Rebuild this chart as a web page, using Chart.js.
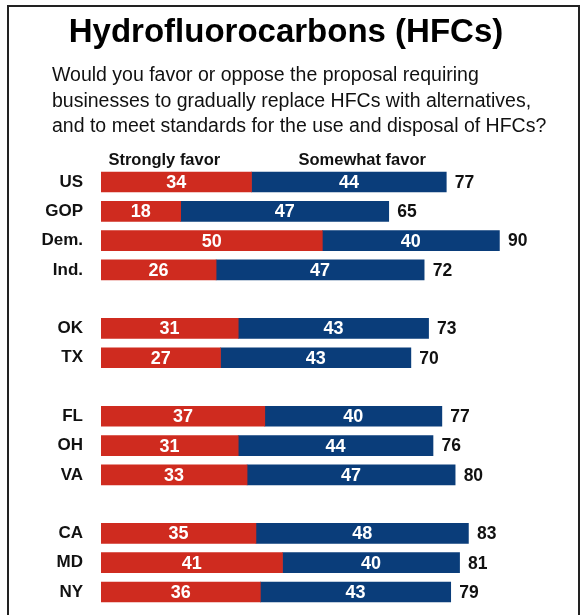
<!DOCTYPE html>
<html>
<head>
<meta charset="utf-8">
<script src="https://cdn.jsdelivr.net/npm/chart.js@4"></script>
<style>
  body { margin: 0; background: #fff; }
  #wrap { position: relative; width: 583px; height: 615px; overflow: hidden; }
  #frame { position: absolute; left: 7px; top: 5px; width: 569px; height: 640px; border: 2px solid #222; }
  #chart { position: absolute; left: 0; top: 0; }
</style>
</head>
<body>
<div id="wrap">
  <div id="frame"></div>
  <canvas id="chart" width="583" height="615"></canvas>
</div>
<script>
// survey data, groups are separated by an empty row
const groups = [
    ['US', 'GOP', 'Dem.', 'Ind.'],
    ['OK', 'TX'],
    ['FL', 'OH', 'VA'],
    ['CA', 'MD', 'NY']
];
const stronglyFavor = [34, 18, 50, 26, 31, 27, 37, 31, 33, 35, 41, 36];
const somewhatFavor = [44, 47, 40, 47, 43, 43, 40, 44, 47, 48, 40, 43];
const totals = [77, 65, 90, 72, 73, 70, 77, 76, 80, 83, 81, 79];
const seriesNames = ['Strongly favor', 'Somewhat favor'];
const question = [
    'Would you favor or oppose the proposal requiring',
    'businesses to gradually replace HFCs with alternatives,',
    'and to meet standards for the use and disposal of HFCs?'
];

const FONT = '"Liberation Sans", Arial, sans-serif';
const RED = '#cf2b1f';
const BLUE = '#0a3d7a';

// build padded rows (blank row between groups)
const labels = [];
const rowIndex = [];
let k = 0;
groups.forEach((g, gi) => {
    if (gi > 0) { labels.push(''); rowIndex.push(null); }
    g.forEach(name => { labels.push(name); rowIndex.push(k++); });
});
const pad = arr => rowIndex.map(i => i === null ? null : arr[i]);

const labelPlugin = {
    id: 'labels',
    afterDatasetsDraw(chart) {
        const ctx = chart.ctx;
        const xs = chart.scales.x;
        ctx.save();
        // question text under the title
        ctx.fillStyle = '#111';
        ctx.font = '19.5px ' + FONT;
        ctx.textAlign = 'left';
        ctx.textBaseline = 'alphabetic';
        question.forEach((line, i) => ctx.fillText(line, 52, 81 + i * 25.5));

        // values inside segments
        ctx.fillStyle = '#fff';
        ctx.font = 'bold 18px ' + FONT;
        ctx.textAlign = 'center';
        ctx.textBaseline = 'middle';
        chart.data.datasets.forEach((ds, di) => {
            chart.getDatasetMeta(di).data.forEach((bar, i) => {
                if (ds.data[i] == null) return;
                const x0 = Math.min(bar.x, bar.base), x1 = Math.max(bar.x, bar.base);
                ctx.fillText(ds.data[i], (x0 + x1) / 2, bar.y + 1);
            });
        });
        // totals at the bar ends
        ctx.fillStyle = '#111';
        ctx.font = 'bold 17.5px ' + FONT;
        ctx.textAlign = 'left';
        const last = chart.getDatasetMeta(1).data;
        rowIndex.forEach((ri, i) => {
            if (ri === null) return;
            ctx.fillText(totals[ri], last[i].x + 8.5, last[i].y + 1);
        });
        // column headers
        ctx.font = 'bold 16.5px ' + FONT;
        ctx.textAlign = 'center';
        ctx.textBaseline = 'alphabetic';
        ctx.fillText(seriesNames[0], xs.getPixelForValue(14.3), chart.chartArea.top - 2);
        ctx.fillText(seriesNames[1], xs.getPixelForValue(59), chart.chartArea.top - 2);
        ctx.restore();
    }
};

new Chart(document.getElementById('chart'), {
    type: 'bar',
    data: {
        labels: labels,
        datasets: [
            { label: seriesNames[0], data: pad(stronglyFavor), backgroundColor: RED, barThickness: 20 },
            { label: seriesNames[1], data: pad(somewhatFavor), backgroundColor: BLUE, barThickness: 20 }
        ]
    },
    options: {
        indexAxis: 'y',
        responsive: false,
        animation: false,
        layout: { padding: { left: 0, right: 11, top: 0, bottom: 8.4 } },
        scales: {
            x: {
                stacked: true,
                min: 0,
                max: 106.4,
                display: false
            },
            y: {
                stacked: true,
                grid: { display: false, drawTicks: true, tickLength: 18 },
                border: { display: false },
                ticks: {
                    padding: 0,
                    color: '#111',
                    font: { family: FONT, size: 17, weight: 'bold', lineHeight: 0.9 }
                },
                afterFit(scale) { scale.width = 101; }
            }
        },
        plugins: {
            legend: { display: false },
            tooltip: { enabled: false },
            title: {
                display: true,
                text: 'Hydrofluorocarbons (HFCs)',
                color: '#000',
                font: { family: FONT, size: 33, weight: 'bold', lineHeight: 1 },
                padding: { top: 16, bottom: 118.4 }
            }
        }
    },
    plugins: [labelPlugin]
});
</script>
</body>
</html>
